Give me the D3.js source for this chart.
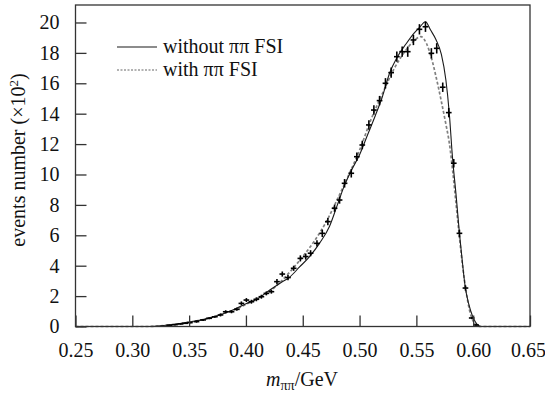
<!DOCTYPE html>
<html>
<head>
<meta charset="utf-8">
<script src="https://cdn.jsdelivr.net/npm/d3@7"></script>
<style>
  body { margin: 0; background: #fff; }
  svg { display: block; }
  text { font-family: "Liberation Serif", "Times New Roman", serif; fill: #111; }
</style>
</head>
<body>
<svg id="visframe" width="545" height="395"></svg>
<script>
// x ticks / y ticks
var xTicks = [0.25, 0.30, 0.35, 0.40, 0.45, 0.50, 0.55, 0.60, 0.65];
var yTicks = [0, 2, 4, 6, 8, 10, 12, 14, 16, 18, 20];

// curve without pi pi FSI (solid)
var solidX = [0.25, 0.30, 0.3125, 0.32, 0.33, 0.34, 0.35, 0.36, 0.37, 0.377, 0.385, 0.3945, 0.40, 0.41, 0.421,
  0.43, 0.4385, 0.447, 0.456, 0.465, 0.4736, 0.48, 0.4868, 0.493, 0.50, 0.507, 0.514, 0.52, 0.5264, 0.533,
  0.541, 0.548, 0.553, 0.558, 0.5625, 0.5674, 0.572, 0.576, 0.579, 0.5817, 0.585, 0.5879, 0.590, 0.593,
  0.596, 0.5996, 0.602, 0.604, 0.607, 0.65];
var solidY = [0, 0, 0, 0.02, 0.08, 0.17, 0.3, 0.42, 0.6, 0.76, 0.98, 1.3, 1.5, 1.8, 2.4,
  2.85, 3.25, 3.9, 4.6, 5.5, 6.6, 7.9, 9.3, 10.3, 11.3, 12.6, 13.9, 15.1, 16.66, 17.7,
  18.6, 19.3, 19.7, 20.05, 19.5, 18.85, 17.9, 16.2, 14.0, 11.2, 8.6, 6.13, 4.6, 2.6,
  1.5, 0.65, 0.3, 0.1, 0, 0];

// curve with pi pi FSI (dotted)
var dotX = [0.25, 0.30, 0.3125, 0.32, 0.33, 0.34, 0.35, 0.36, 0.37, 0.38, 0.39, 0.40, 0.41, 0.42, 0.43,
  0.44, 0.45, 0.46, 0.47, 0.48, 0.49, 0.50, 0.51, 0.52, 0.53, 0.54, 0.548, 0.554, 0.559, 0.5635,
  0.5674, 0.572, 0.576, 0.579, 0.582, 0.585, 0.588, 0.591, 0.594, 0.597, 0.600, 0.603, 0.606, 0.65];
var dotY = [0, 0, 0, 0.02, 0.08, 0.17, 0.28, 0.42, 0.6, 0.85, 1.1, 1.45, 1.85, 2.25, 2.9,
  3.7, 4.6, 5.6, 6.8, 8.3, 9.9, 11.6, 13.6, 15.3, 16.9, 18.1, 18.8, 19.07, 18.6, 17.6,
  16.4, 14.8, 13.3, 12.07, 10.2, 8.0, 5.8, 3.8, 2.2, 1.0, 0.35, 0.08, 0, 0];

// data points with error bars
var pointX = [0.3325, 0.3375, 0.3425, 0.3465, 0.3506, 0.3565, 0.3623, 0.3676, 0.3726, 0.3776, 0.3822, 0.3873,
  0.392, 0.396, 0.4004, 0.4048, 0.4092, 0.4136, 0.418, 0.4224, 0.4273, 0.432, 0.437, 0.442, 0.4479,
  0.4526, 0.4569, 0.4625, 0.4672, 0.4721, 0.478, 0.4824, 0.4868, 0.4927, 0.4976, 0.5024, 0.5082,
  0.5126, 0.5176, 0.5228, 0.5278, 0.5328, 0.5375, 0.5424, 0.5474, 0.5527, 0.558, 0.5632, 0.5679,
  0.5732, 0.5785, 0.5829, 0.5879, 0.5932, 0.5987, 0.6025];
var pointY = [0.08, 0.12, 0.17, 0.21, 0.25, 0.32, 0.43, 0.54, 0.64, 0.76, 0.97, 0.97,
  1.13, 1.52, 1.74, 1.63, 1.79, 1.96, 2.18, 2.29, 2.95, 3.45, 3.22, 3.83, 4.48,
  4.6, 4.82, 5.47, 6.13, 6.9, 7.78, 8.32, 9.42, 10.08, 11.17, 11.94, 13.26,
  14.24, 14.86, 16.0, 16.7, 17.75, 18.08, 18.08, 18.85, 19.55, 19.72, 17.97, 18.3,
  15.74, 14.07, 10.74, 6.13, 2.53, 0.56, 0.1];
var pointErr = [0.05, 0.05, 0.05, 0.05, 0.05, 0.07, 0.07, 0.07, 0.07, 0.1, 0.1, 0.1,
  0.1, 0.13, 0.13, 0.13, 0.13, 0.13, 0.13, 0.13, 0.17, 0.17, 0.17, 0.17, 0.2,
  0.2, 0.2, 0.2, 0.24, 0.24, 0.24, 0.24, 0.28, 0.28, 0.28, 0.28, 0.31,
  0.31, 0.31, 0.34, 0.34, 0.34, 0.34, 0.34, 0.34, 0.34, 0.34, 0.34, 0.34,
  0.31, 0.31, 0.28, 0.24, 0.17, 0.07, 0.05];
var binHalf = 0.0025;

var legendLabels = ["without \u03c0\u03c0 FSI", "with \u03c0\u03c0 FSI"];

var plot = { left: 75.5, right: 530, top: 5, bottom: 326.5 };
var fontSize = 20;

var svg = d3.select("#visframe");

var xScale = d3.scaleLinear().domain([0.25, 0.65]).range([plot.left, plot.right]);
var yScale = d3.scaleLinear().domain([0, 21.15]).range([plot.bottom, plot.top]);

//curves
var line = d3.line()
  .x(function(d) { return xScale(d[0]); })
  .y(function(d) { return yScale(d[1]); })
  .curve(d3.curveMonotoneX);

svg.append("path")
  .datum(dotX.map(function(x, i) { return [x, dotY[i]]; }))
  .attr("d", line)
  .attr("fill", "none")
  .attr("stroke", "#808080")
  .attr("stroke-width", 1.7)
  .attr("stroke-dasharray", "3,2");

svg.append("path")
  .datum(solidX.map(function(x, i) { return [x, solidY[i]]; }))
  .attr("d", line)
  .attr("fill", "none")
  .attr("stroke", "#1a1a1a")
  .attr("stroke-width", 1.1);

//error-bar crosses
var pts = svg.append("g")
  .attr("stroke", "#000")
  .attr("stroke-width", 1.6);

pointX.forEach(function(x, i) {
  var y = pointY[i];
  pts.append("line")
    .attr("x1", xScale(x)).attr("x2", xScale(x))
    .attr("y1", yScale(y - pointErr[i])).attr("y2", yScale(y + pointErr[i]));
  pts.append("line")
    .attr("x1", xScale(x - binHalf)).attr("x2", xScale(x + binHalf))
    .attr("y1", yScale(y)).attr("y2", yScale(y));
});

//axes, ticks point inward
var xAxis = svg.append("g")
  .attr("transform", "translate(0," + plot.bottom + ")")
  .call(d3.axisBottom(xScale).tickValues(xTicks).tickSizeInner(-11).tickSizeOuter(0)
    .tickPadding(16).tickFormat(d3.format(".2f")));

var yAxis = svg.append("g")
  .attr("transform", "translate(" + plot.left + ",0)")
  .call(d3.axisLeft(yScale).tickValues(yTicks).tickSizeInner(-11).tickSizeOuter(0)
    .tickPadding(16).tickFormat(d3.format("d")));

[xAxis, yAxis].forEach(function(ax) {
  ax.select(".domain").remove();
  ax.selectAll(".tick line").attr("stroke", "#333").attr("stroke-width", 1.3);
  ax.selectAll(".tick text")
    .style("font-family", "'Liberation Serif', serif")
    .style("font-size", fontSize + "px")
    .attr("fill", "#111");
});
// last label sits at the window edge
xAxis.selectAll(".tick text").filter(function(d) { return d == 0.65; }).attr("dx", -2);

svg.append("rect")
  .attr("x", plot.left).attr("y", plot.top)
  .attr("width", plot.right - plot.left).attr("height", plot.bottom - plot.top)
  .attr("fill", "none")
  .attr("stroke", "#333")
  .attr("stroke-width", 1.3);

//legend
var legend = svg.append("g");
legendLabels.forEach(function(lab, i) {
  var ly = 47 + i * 23;
  legend.append("line")
    .attr("x1", 117).attr("x2", 157).attr("y1", ly).attr("y2", ly)
    .attr("stroke", i == 0 ? "#1a1a1a" : "#666")
    .attr("stroke-width", i == 0 ? 1.1 : 1.2)
    .attr("stroke-dasharray", i == 0 ? null : "2,1.5");
  legend.append("text")
    .attr("x", 163).attr("y", ly + 6)
    .style("font-size", fontSize + "px")
    .text(lab);
});

// axis titles
var xt = svg.append("text")
  .attr("x", 302).attr("y", 386)
  .attr("text-anchor", "middle")
  .style("font-size", fontSize + "px");
xt.append("tspan").style("font-style", "italic").text("m");
xt.append("tspan").attr("dy", 4).style("font-size", "14px").text("\u03c0\u03c0");
xt.append("tspan").attr("dy", -4).text("/GeV");

var yt = svg.append("text")
  .attr("transform", "translate(25,160) rotate(-90)")
  .attr("text-anchor", "middle")
  .style("font-size", fontSize + "px");
yt.append("tspan").text("events number  (\u00d710");
yt.append("tspan").attr("dy", -7).style("font-size", "13px").text("2");
yt.append("tspan").attr("dy", 7).text(")");
</script>
</body>
</html>
